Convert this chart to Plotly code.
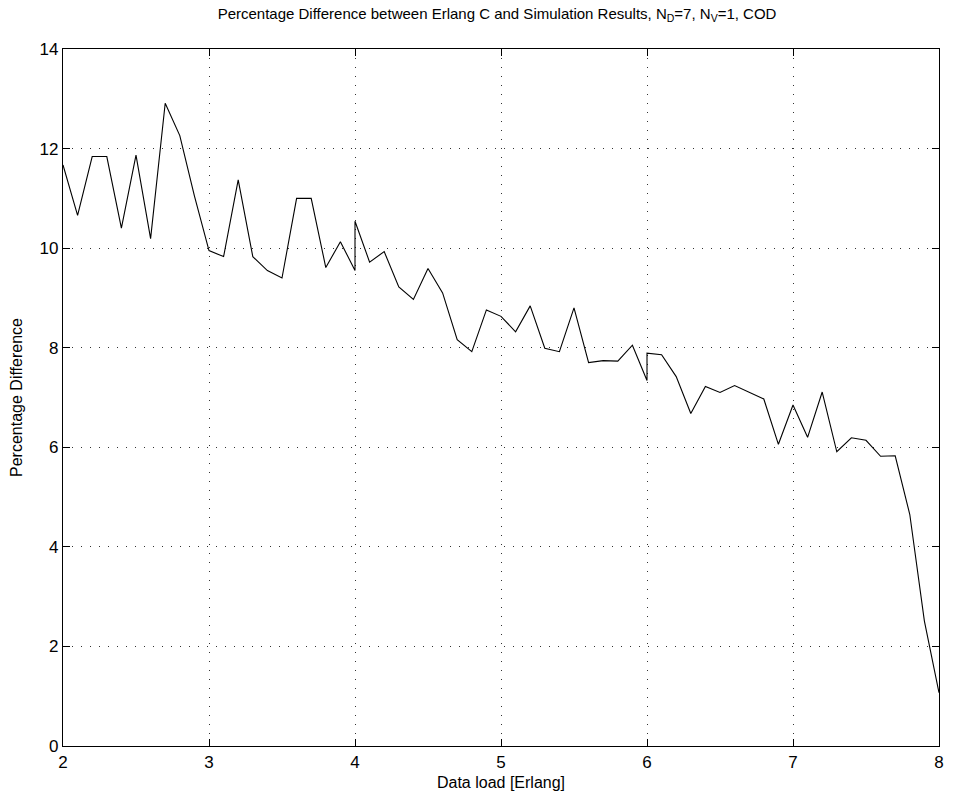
import plotly.graph_objects as go

# Offered data load (Erlang); 4.0 and 6.0 appear twice where two sweeps join
load = [2.0, 2.1, 2.2, 2.3, 2.4, 2.5, 2.6, 2.7, 2.8, 2.9,
        3.0, 3.1, 3.2, 3.3, 3.4, 3.5, 3.6, 3.7, 3.8, 3.9,
        4.0, 4.0, 4.1, 4.2, 4.3, 4.4, 4.5, 4.6, 4.7, 4.8, 4.9,
        5.0, 5.1, 5.2, 5.3, 5.4, 5.5, 5.6, 5.7, 5.8, 5.9,
        6.0, 6.0, 6.1, 6.2, 6.3, 6.4, 6.5, 6.6, 6.7, 6.8, 6.9,
        7.0, 7.1, 7.2, 7.3, 7.4, 7.5, 7.6, 7.7, 7.8, 7.9, 8.0]

# Percentage difference between Erlang C and simulation
pct_diff = [11.67, 10.66, 11.84, 11.84, 10.40, 11.87, 10.19, 12.91, 12.26, 11.05,
            9.95, 9.83, 11.37, 9.83, 9.55, 9.40, 11.0, 11.0, 9.61, 10.13,
            9.55, 10.54, 9.72, 9.93, 9.22, 8.97, 9.59, 9.10, 8.16, 7.92, 8.76,
            8.63, 8.32, 8.84, 7.99, 7.92, 8.80, 7.70, 7.74, 7.73, 8.05,
            7.34, 7.89, 7.86, 7.42, 6.68, 7.22, 7.10, 7.24, 7.11, 6.97, 6.06,
            6.85, 6.20, 7.11, 5.91, 6.19, 6.14, 5.82, 5.83, 4.65, 2.51, 1.07]

x_ticks = [2, 3, 4, 5, 6, 7, 8]
y_ticks = [0, 2, 4, 6, 8, 10, 12, 14]

font_family = "Liberation Sans, Arial, Helvetica, sans-serif"

fig = go.Figure()
fig.add_trace(go.Scatter(
    x=load, y=pct_diff, mode="lines",
    line=dict(color="black", width=1.1),
    showlegend=False, hoverinfo="x+y",
))

axis_common = dict(
    showline=True, linecolor="black", linewidth=1.3, mirror="ticks",
    ticks="inside", ticklen=7, tickwidth=1, tickcolor="black",
    showgrid=True, gridcolor="rgba(0,0,0,0.8)", gridwidth=1.2,
    griddash="1px,8px",
    zeroline=False,
    tickfont=dict(family=font_family, size=17, color="black"),
)

fig.update_layout(
    width=954, height=803,
    margin=dict(l=63, r=10, t=49, b=57),
    paper_bgcolor="white", plot_bgcolor="white",
    title=dict(
        text="Percentage Difference between Erlang C and Simulation Results, N<sub>D</sub>=7, N<sub>V</sub>=1, COD",
        x=0.521, xanchor="center", y=0.99, yanchor="top",
        font=dict(family=font_family, size=15, color="black"),
    ),
    xaxis=dict(
        range=[2, 8], tickvals=x_ticks, ticktext=[str(v) for v in x_ticks],
        title=dict(text="Data load [Erlang]", standoff=6,
                   font=dict(family=font_family, size=16, color="black")),
        **axis_common,
    ),
    yaxis=dict(
        range=[0, 14], tickvals=y_ticks, ticktext=[str(v) for v in y_ticks],
        title=dict(text="Percentage Difference", standoff=12,
                   font=dict(family=font_family, size=16, color="black")),
        **axis_common,
    ),
)

fig.write_html("out.html")
